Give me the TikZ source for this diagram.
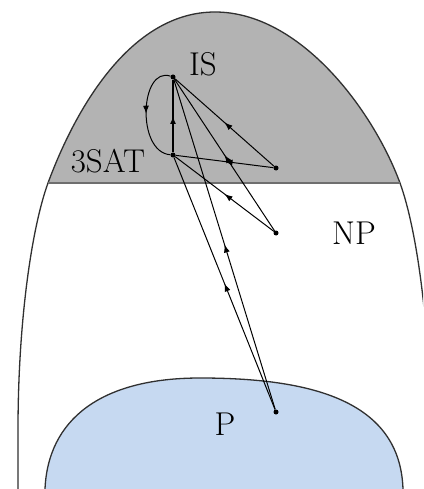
\documentclass[tikz,border=0pt]{standalone}
\usetikzlibrary{arrows.meta,decorations.markings}
\definecolor{npgrey}{HTML}{B3B3B3}
\definecolor{sepgrey}{HTML}{6E6E6E}
\definecolor{pblue}{HTML}{C6D9F1}
\definecolor{outl}{HTML}{303030}
\tikzset{
  dot/.style={circle,fill=black,inner sep=0pt,minimum size=5pt},
  lbl/.style={font=\fontsize{33}{39}\selectfont,inner sep=0pt},
  midarrow/.style={postaction={decorate},decoration={markings,
     mark=at position 0.5 with {\arrow{Latex[length=8pt,width=6pt]}}}},
  edge/.style={black,line width=1pt,midarrow},
}
\begin{document}
\begin{tikzpicture}[x=1pt,y=-1pt]
\useasboundingbox (0,0) rectangle (423,489);
\clip (0,0) rectangle (423,489);
\def\nppath{(18,489) -- (18,430) .. controls (18,320) and (32,227) .. (48,183)
  .. controls (75,110) and (130,12) .. (215,12)
  .. controls (300,12) and (373,110) .. (400,183)
  .. controls (416,227) and (430,320) .. (430,430) -- (430,489)}
\begin{scope}
  \clip (0,0) rectangle (423,183);
  \fill[npgrey] \nppath -- cycle;
\end{scope}
\fill[pblue] (45,489) .. controls (48,420) and (100,378) .. (200,378)
  .. controls (310,378) and (400,400) .. (403,489) -- cycle;
\draw[outl,line width=1.3pt] \nppath;
\draw[sepgrey,line width=2pt] (48,183) -- (400,183);
\draw[outl,line width=1.3pt] (45,489) .. controls (48,420) and (100,378) .. (200,378)
  .. controls (310,378) and (400,400) .. (403,489);
% points
\node[dot] (IS) at (173,77) {};
\node[dot] (SAT) at (173,155) {};
\node[dot] (A) at (276,168) {};
\node[dot] (B) at (276,233) {};
\node[dot] (Pp) at (276,412) {};
% edges
\draw[edge,line width=1.6pt] (SAT) -- (IS);
\draw[edge] (IS) .. controls (140,66) and (136,152) .. (SAT);
\draw[edge] (A) -- (IS);
\draw[edge] (A) -- (SAT);
\draw[edge] (B) -- (IS);
\draw[edge] (B) -- (SAT);
\draw[edge] (Pp) -- (IS);
\draw[edge] (Pp) -- (SAT);
% labels
\node[lbl] (ISl) at (203,64) {IS};
\node[lbl] (SATl) at (108,161) {3SAT};
\node[lbl] (NPl) at (354,233) {NP};
\node[lbl] (Pl) at (225,424) {P};
\end{tikzpicture}
\end{document}
